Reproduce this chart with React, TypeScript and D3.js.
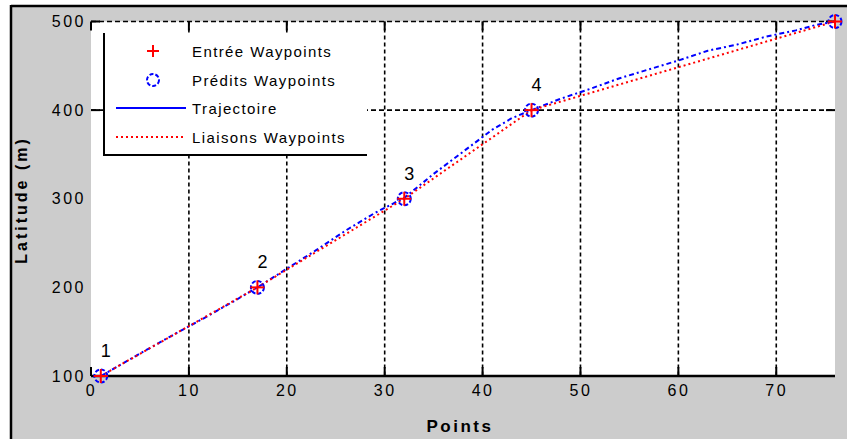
import React, { useEffect, useRef } from "react";
import * as d3 from "d3";

// waypoints (also the red dotted "liaison" line)
const wpX = [1, 17, 32, 45, 76];
const wpY = [100, 200, 300, 400, 500];
const wpLabels = ["1", "2", "3", "4"];

// flown trajectory
const trajX = [1, 4, 8, 12, 15, 17, 20, 23, 26, 29, 32, 35, 38, 41, 43, 45, 48, 51, 54, 57, 60, 63, 66, 69, 72, 74, 76];
const trajY = [100, 119, 144, 168, 187, 200, 221, 242, 264, 284, 301, 328, 353, 378, 391, 400, 413, 424, 436, 446, 456, 467, 474, 483, 490, 496, 500];

const xTicks = [0, 10, 20, 30, 40, 50, 60, 70];
const yTicks = [100, 200, 300, 400, 500];
const yGrid = [400, 500];

const legendLabels = ["Entrée Waypoints", "Prédits Waypoints", "Trajectoire", "Liaisons Waypoints"];

const FONT = "'Liberation Sans', Arial, Helvetica, sans-serif";

const App = () => {
  const svgRef = useRef<SVGSVGElement>(null);

  useEffect(() => {
    const width = 847;
    const height = 439;
    const svg = d3.select(svgRef.current).attr("width", width).attr("height", height);
    svg.selectAll("*").remove();

    const x = d3.scaleLinear().domain([0, 76]).range([91, 835]);
    const y = d3.scaleLinear().domain([100, 500]).range([376, 21.5]);

    // figure background + frame
    svg.append("rect").attr("width", width).attr("height", height).attr("fill", "#fff");
    svg.append("rect").attr("x", 11).attr("y", 6).attr("width", width - 11).attr("height", height - 6).attr("fill", "#cccccc");
    svg.append("line").attr("x1", 11).attr("x2", width).attr("y1", 6).attr("y2", 6).attr("stroke", "#000").attr("stroke-width", 2.5);
    svg.append("line").attr("x1", 11).attr("x2", 11).attr("y1", 5).attr("y2", height).attr("stroke", "#000").attr("stroke-width", 2.5);

    // axes area
    svg.append("rect")
      .attr("x", x(0)).attr("y", y(500))
      .attr("width", x(76) - x(0)).attr("height", y(100) - y(500))
      .attr("fill", "#fff");

    // grid
    svg.selectAll(".vgrid")
      .data(xTicks.slice(1))
      .join("line")
      .attr("x1", d => x(d)).attr("x2", d => x(d))
      .attr("y1", y(500)).attr("y2", y(100))
      .attr("stroke", "#000").attr("stroke-width", 1.6).attr("stroke-dasharray", "4,3");
    svg.selectAll(".hgrid")
      .data(yGrid)
      .join("line")
      .attr("x1", x(0)).attr("x2", x(76))
      .attr("y1", d => y(d)).attr("y2", d => y(d))
      .attr("stroke", "#000").attr("stroke-width", 1.6).attr("stroke-dasharray", "5,3");

    // inner ticks
    const tk = svg.append("g").attr("stroke", "#000").attr("stroke-width", 2);
    xTicks.forEach(t => {
      tk.append("line").attr("x1", x(t)).attr("x2", x(t)).attr("y1", y(100)).attr("y2", y(100) - 9);
      tk.append("line").attr("x1", x(t)).attr("x2", x(t)).attr("y1", y(500)).attr("y2", y(500) + 9);
    });
    yGrid.forEach(t => {
      tk.append("line").attr("x1", x(0)).attr("x2", x(0) + 9).attr("y1", y(t)).attr("y2", y(t));
      tk.append("line").attr("x1", x(76)).attr("x2", x(76) - 9).attr("y1", y(t)).attr("y2", y(t));
    });

    // bottom axis line
    svg.append("line")
      .attr("x1", x(0)).attr("x2", x(76)).attr("y1", y(100)).attr("y2", y(100))
      .attr("stroke", "#000").attr("stroke-width", 2.5);

    // tick labels
    const xa = svg.append("g")
      .attr("transform", `translate(0,${y(100)})`)
      .call(d3.axisBottom(x).tickValues(xTicks).tickSize(0).tickPadding(9).tickFormat(d3.format("d")));
    xa.select(".domain").remove();
    xa.selectAll("text").attr("font-family", FONT).attr("font-size", 16).attr("letter-spacing", 2.5).attr("fill", "#000");

    const ya = svg.append("g")
      .attr("transform", `translate(${x(0)},0)`)
      .call(d3.axisLeft(y).tickValues(yTicks).tickSize(0).tickPadding(5).tickFormat(d3.format("d")));
    ya.select(".domain").remove();
    ya.selectAll("text").attr("font-family", FONT).attr("font-size", 16).attr("letter-spacing", 2.5).attr("fill", "#000");

    // axis titles
    svg.append("text")
      .attr("x", 460).attr("y", 432)
      .attr("text-anchor", "middle")
      .attr("font-family", FONT).attr("font-size", 17).attr("font-weight", "bold").attr("letter-spacing", 2.5)
      .text("Points");
    svg.append("text")
      .attr("transform", "translate(27,200) rotate(-90)")
      .attr("text-anchor", "middle")
      .attr("font-family", FONT).attr("font-size", 16).attr("font-weight", "bold").attr("letter-spacing", 3)
      .text("Latitude (m)");

    // series
    const line = d3.line<number>().x((_, i) => x(trajX[i])).y(d => y(d));
    svg.append("path")
      .attr("d", line(trajY))
      .attr("fill", "none").attr("stroke", "#0000ff").attr("stroke-width", 2)
      .attr("stroke-dasharray", "5,3,2,3");

    const wpLine = d3.line<number>().x((_, i) => x(wpX[i])).y(d => y(d));
    svg.append("path")
      .attr("d", wpLine(wpY))
      .attr("fill", "none").attr("stroke", "#ff0000").attr("stroke-width", 2)
      .attr("stroke-dasharray", "2,3");

    // markers
    svg.selectAll(".wpc")
      .data(wpY)
      .join("circle")
      .attr("cx", (_, i) => x(wpX[i])).attr("cy", d => y(d)).attr("r", 6.5)
      .attr("fill", "none").attr("stroke", "#0000ff").attr("stroke-width", 2)
      .attr("stroke-dasharray", "4,2");
    const plus = (g: any, cx: number, cy: number, s: number) => {
      g.append("line").attr("x1", cx - s).attr("x2", cx + s).attr("y1", cy).attr("y2", cy);
      g.append("line").attr("x1", cx).attr("x2", cx).attr("y1", cy - s).attr("y2", cy + s);
    };
    const pg = svg.append("g").attr("stroke", "#ff0000").attr("stroke-width", 2);
    wpY.forEach((v, i) => plus(pg, x(wpX[i]), y(v), 7));

    // waypoint numbers
    svg.selectAll(".wpl")
      .data(wpLabels)
      .join("text")
      .attr("x", (_, i) => x(wpX[i]) + 5).attr("y", (_, i) => y(wpY[i]) - 19)
      .attr("text-anchor", "middle")
      .attr("font-family", FONT).attr("font-size", 18)
      .text(d => d);

    // legend
    const lg = svg.append("g");
    lg.append("rect").attr("x", 104).attr("y", 33).attr("width", 263).attr("height", 122).attr("fill", "#fff");
    lg.append("line").attr("x1", 104).attr("x2", 104).attr("y1", 33).attr("y2", 156).attr("stroke", "#000").attr("stroke-width", 2);
    lg.append("line").attr("x1", 103).attr("x2", 367).attr("y1", 155).attr("y2", 155).attr("stroke", "#000").attr("stroke-width", 2);

    const rowY = [51, 80, 108, 137];
    const lp = lg.append("g").attr("stroke", "#ff0000").attr("stroke-width", 2);
    plus(lp, 153, rowY[0], 6);
    lg.append("circle").attr("cx", 153).attr("cy", rowY[1]).attr("r", 6)
      .attr("fill", "none").attr("stroke", "#0000ff").attr("stroke-width", 2).attr("stroke-dasharray", "4,2");
    lg.append("line").attr("x1", 116).attr("x2", 186).attr("y1", rowY[2]).attr("y2", rowY[2])
      .attr("stroke", "#0000ff").attr("stroke-width", 2);
    lg.append("line").attr("x1", 116).attr("x2", 186).attr("y1", rowY[3]).attr("y2", rowY[3])
      .attr("stroke", "#ff0000").attr("stroke-width", 2).attr("stroke-dasharray", "2,3");

    lg.selectAll(".lt")
      .data(legendLabels)
      .join("text")
      .attr("x", 192).attr("y", (_, i) => rowY[i] + 6)
      .attr("font-family", FONT).attr("font-size", 15).attr("letter-spacing", 1.4)
      .text(d => d);
  }, []);

  return <svg ref={svgRef} style={{ position: "absolute", left: 0, top: 0 }} />;
};

export default App;
